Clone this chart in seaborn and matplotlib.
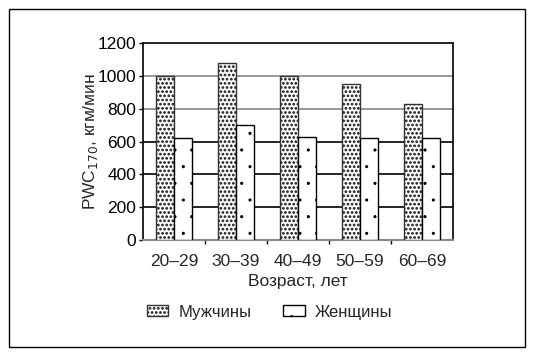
import matplotlib
matplotlib.use("Agg")
import matplotlib.pyplot as plt
import matplotlib.hatch as mhatch
import seaborn as sns
import pandas as pd
from matplotlib.patches import Rectangle, Patch

categories = ["20–29", "30–39", "40–49", "50–59", "60–69"]
men = [1000, 1080, 1000, 950, 830]
women = [620, 700, 625, 620, 620]
series_names = ["Мужчины", "Женщины"]
yticks = [0, 200, 400, 600, 800, 1000, 1200]


# dot hatch whose dot size depends on density: dense -> bigger dots, sparse -> tiny dots
class _Dots(mhatch.Circles):
    filled = True

    def __init__(self, hatch, density):
        n = hatch.count('.')
        self.num_rows = n * density
        self.size = 0.2 if n >= 4 else 0.06
        super().__init__(hatch, density)


mhatch._hatch_types = [(_Dots if t is mhatch.SmallFilledCircles else t) for t in mhatch._hatch_types]

df = pd.DataFrame({
    "age": categories * 2,
    "value": men + women,
    "sex": [series_names[0]] * len(categories) + [series_names[1]] * len(categories),
})

sns.set_theme(style="white")
plt.rcParams["font.family"] = ["Liberation Sans", "DejaVu Sans"]
plt.rcParams["hatch.linewidth"] = 0.8

FS = 12.5
fig = plt.figure(figsize=(5.34, 3.53), dpi=100)
ax = fig.add_axes([143 / 534, 1 - 240 / 353, 310 / 534, 197 / 353])

# gridlines
for y, c in [(200, "black"), (400, "black"), (600, "black"), (800, "#888888"), (1000, "#888888")]:
    ax.axhline(y, color=c, lw=1.2, zorder=0)

sns.barplot(data=df, x="age", y="value", hue="sex", ax=ax, width=0.58,
            palette=["white", "white"], saturation=1, legend=False, zorder=3)

hatches = ["....", "."]
edges = ["#333333", "black"]
for i, cont in enumerate(ax.containers):
    for bar in cont:
        bar.set_hatch(hatches[i])
        bar.set_edgecolor(edges[i])
        bar.set_linewidth(1.0)
        bar.set_facecolor("white")

ax.set_ylim(0, 1200)
ax.set_yticks(yticks)
ax.set_xlim(-0.5, 4.5)
ax.tick_params(axis="y", labelsize=FS, length=3, width=1, colors="black", left=True, pad=2)
ax.tick_params(axis="x", labelsize=FS, length=0, pad=10)
ax.set_xticks(range(len(categories)))
ax.set_xticklabels(categories)
# boundary ticks
ax.set_xticks([0.5, 1.5, 2.5, 3.5], minor=True)
ax.tick_params(axis="x", which="minor", length=3, width=1, bottom=True, color="black")

for s in ["left", "top", "right"]:
    ax.spines[s].set_color("black")
    ax.spines[s].set_linewidth(1.2)
ax.spines["bottom"].set_color("#888888")
ax.spines["bottom"].set_linewidth(1.5)

ax.set_xlabel("Возраст, лет", fontsize=FS, labelpad=4)
ax.set_ylabel("PWC$_{170}$, кгм/мин", fontsize=FS, labelpad=-2)

handles = [Patch(facecolor="white", edgecolor=edges[i], hatch=hatches[i], label=series_names[i]) for i in range(2)]
fig.legend(handles=handles, loc="center", bbox_to_anchor=(0.505, 1 - 312 / 353), ncol=2,
           frameon=False, fontsize=12, handlelength=1.3, handleheight=0.6, columnspacing=1.9,
           handletextpad=0.6)

fig.patches.append(Rectangle((9 / 534, 1 - 347 / 353), 516 / 534, 338 / 353,
                             transform=fig.transFigure, fill=False, edgecolor="black", lw=1.0))

fig.savefig("out.png", dpi=100)
